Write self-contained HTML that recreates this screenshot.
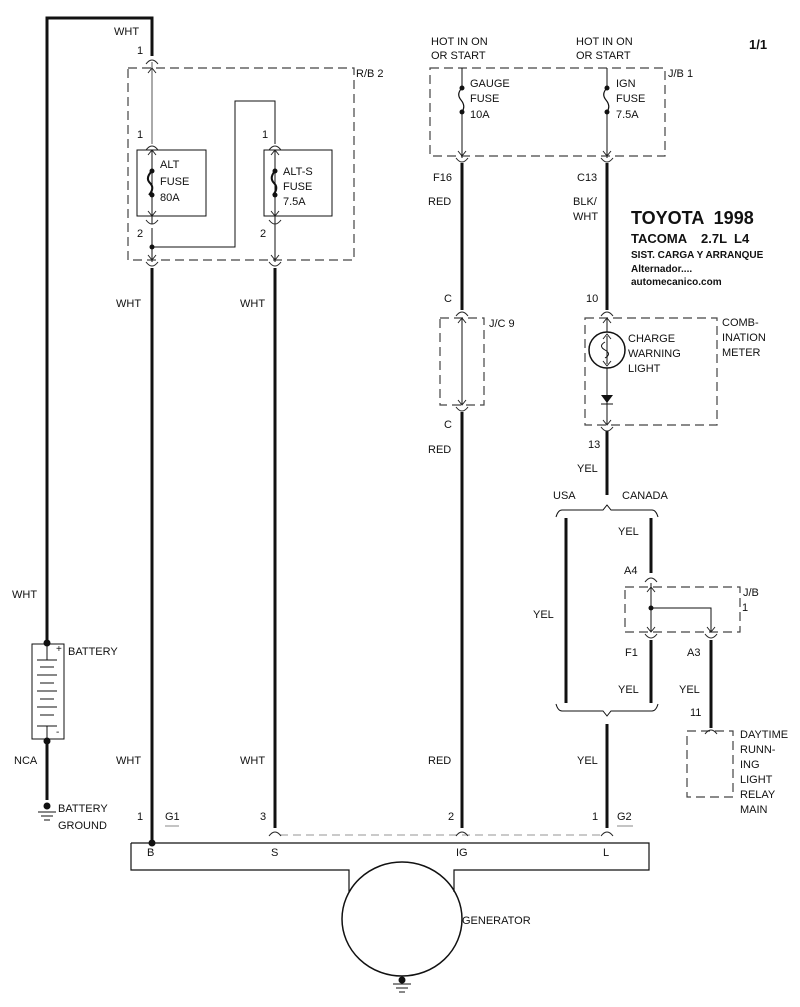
<!DOCTYPE html>
<html><head><meta charset="utf-8"><style>
html,body{margin:0;padding:0;background:#fff}
svg{display:block}
text{font-family:"Liberation Sans",Arial,sans-serif;font-size:11px;fill:#111}
.b{font-weight:bold}
</style></head><body>
<svg width="800" height="1007" viewBox="0 0 800 1007" xmlns="http://www.w3.org/2000/svg">
<defs>
<g id="cu"><path d="M-6,4 Q0,-4 6,4" fill="none" stroke="#222" stroke-width="1"/></g>
<g id="cd"><path d="M-6,-4 Q0,4 6,-4" fill="none" stroke="#222" stroke-width="1"/></g>
<g id="au"><path d="M-4,5 L0,0 L4,5" fill="none" stroke="#222" stroke-width="1"/></g>
<g id="ad"><path d="M-4,-5 L0,0 L4,-5" fill="none" stroke="#222" stroke-width="1"/></g>
</defs>
<g stroke="#111" fill="none">
<path d="M47,643 V18 H152 V56" stroke-width="3"/>
<path d="M47,741 V800" stroke-width="3"/>
<rect x="128" y="68" width="226" height="192" stroke-dasharray="9,5" stroke-width="1.2" stroke="#444"/>
<path d="M152,62 V144" stroke-width="1" stroke="#555"/>
<rect x="137" y="150" width="69" height="66" stroke-width="1"/>
<rect x="264" y="150" width="68" height="66" stroke-width="1"/>
<path d="M152,150 V224 M152,228 V262" stroke-width="1"/>
<path d="M152,247 H235 V101 H275 V144 M275,150 V262" stroke-width="1"/>
<path d="M152,171 Q145,178 150,183 Q155,188 149,195 M275,171 Q269,178 274,183 Q279,188 273,195" stroke-width="2"/>
<path d="M152,268 V843" stroke-width="3"/>
<path d="M275,268 V828" stroke-width="3"/>
<rect x="430" y="68" width="235" height="88" stroke-dasharray="9,5" stroke-width="1.2" stroke="#444"/>
<path d="M462,68 V88 M462,112 V158 M607,68 V88 M607,112 V158" stroke-width="1"/>
<path d="M462,88 Q456,94 461,100 Q466,106 462,112 M607,88 Q601,94 606,100 Q611,106 607,112" stroke-width="1.2"/>
<path d="M462,163 V310 M462,412 V828" stroke-width="3"/>
<path d="M607,163 V310" stroke-width="3"/>
<rect x="440" y="318" width="44" height="87" stroke-dasharray="9,5" stroke-width="1.2" stroke="#444"/>
<path d="M462,318 V405" stroke-width="1"/>
<rect x="585" y="318" width="132" height="107" stroke-dasharray="9,5" stroke-width="1.2" stroke="#444"/>
<path d="M607,318 V425" stroke-width="1"/>
<circle cx="607" cy="350" r="18" stroke-width="1.5" fill="#fff"/>
<path d="M607,336 V364" stroke-width="1"/>
<path d="M605,342 Q598,346 605,350 Q612,354 605,358" stroke-width="1"/>
<path d="M607,431 V495" stroke-width="3"/>
<path d="M556,517 Q558,510 562,510 H603 L607,505 L611,510 H652 Q656,510 658,517" stroke-width="1"/>
<path d="M566,518 V703" stroke-width="3"/>
<path d="M651,518 V573 M651,640 V703" stroke-width="3"/>
<rect x="625" y="587" width="115" height="45" stroke-dasharray="9,5" stroke-width="1.2" stroke="#444"/>
<path d="M651,583 V632 M651,608 H711 V632" stroke-width="1"/>
<path d="M711,640 V728" stroke-width="3"/>
<path d="M556,704 Q558,711 562,711 H603 L607,716 L611,711 H652 Q656,711 658,704" stroke-width="1"/>
<path d="M607,724 V828" stroke-width="3"/>
<rect x="687" y="731" width="46" height="66" stroke-dasharray="9,5" stroke-width="1.2" stroke="#444"/>
<rect x="32" y="644" width="32" height="95" stroke-width="1"/>
<path d="M37,660 H57 M40,667 H54 M37,675 H57 M40,683 H54 M37,691 H57 M40,699 H54 M37,707 H57 M40,715 H54 M37,726 H57 M47,644 V660 M47,726 V739" stroke-width="1"/>
<path d="M38,812 H56 M41,816 H53 M44,820 H50" stroke-width="1"/>
<path d="M393,984 H411 M396,988 H408 M399,992 H405" stroke-width="1"/>
<path d="M131,843 H649 V870 H454 V892 M349,892 V870 H131 V843" stroke-width="1.2"/>
<ellipse cx="402" cy="919" rx="60" ry="57" stroke-width="1.5"/>
<path d="M280,835 H602" stroke="#aaa" stroke-width="1.2" stroke-dasharray="8,5"/>
<path d="M165,826 H179 M617,826 H633" stroke="#888" stroke-width="1"/>
</g>
<g fill="#111">
<circle cx="47" cy="643" r="3.5"/><circle cx="47" cy="741" r="3.5"/>
<circle cx="47" cy="806" r="3.5"/><circle cx="402" cy="980" r="3.5"/>
<circle cx="152" cy="843" r="3.5"/><circle cx="152" cy="247" r="2.5"/>
<circle cx="651" cy="608" r="2.5"/>
<circle cx="152" cy="171" r="2.5"/><circle cx="152" cy="195" r="2.5"/>
<circle cx="275" cy="171" r="2.5"/><circle cx="275" cy="195" r="2.5"/>
<circle cx="462" cy="88" r="2.5"/><circle cx="462" cy="112" r="2.5"/>
<circle cx="607" cy="88" r="2.5"/><circle cx="607" cy="112" r="2.5"/>
<path d="M601,395 H613 L607,403 Z"/>
</g>
<path d="M601,404 H613" stroke="#111"/>
<use href="#cu" x="152" y="60"/><use href="#au" x="152" y="68"/>
<use href="#cu" x="152" y="146"/><use href="#au" x="152" y="150"/><use href="#ad" x="152" y="216"/><use href="#cd" x="152" y="224"/>
<use href="#cu" x="275" y="146"/><use href="#au" x="275" y="150"/><use href="#ad" x="275" y="216"/><use href="#cd" x="275" y="224"/>
<use href="#ad" x="152" y="260"/><use href="#cd" x="152" y="266"/>
<use href="#ad" x="275" y="260"/><use href="#cd" x="275" y="266"/>
<use href="#ad" x="462" y="156"/><use href="#cd" x="462" y="162"/>
<use href="#ad" x="607" y="156"/><use href="#cd" x="607" y="162"/>
<use href="#cu" x="462" y="312"/><use href="#au" x="462" y="318"/><use href="#ad" x="462" y="405"/><use href="#cd" x="462" y="411"/>
<use href="#cu" x="607" y="312"/><use href="#au" x="607" y="318"/><use href="#au" x="607" y="334"/><use href="#ad" x="607" y="366"/><use href="#ad" x="607" y="425"/><use href="#cd" x="607" y="431"/>
<use href="#cu" x="651" y="578"/><use href="#au" x="651" y="587"/><use href="#ad" x="651" y="632"/><use href="#cd" x="651" y="638"/>
<use href="#ad" x="711" y="632"/><use href="#cd" x="711" y="638"/>
<use href="#cu" x="711" y="730"/>
<use href="#cu" x="275" y="832"/><use href="#cu" x="462" y="832"/><use href="#cu" x="607" y="832"/>
<text x="114" y="35">WHT</text>
<text x="137" y="54">1</text>
<text x="356" y="77">R/B 2</text>
<text x="137" y="138">1</text><text x="262" y="138">1</text>
<text x="160" y="168">ALT</text><text x="160" y="185">FUSE</text><text x="160" y="201">80A</text>
<text x="283" y="175">ALT-S</text><text x="283" y="190">FUSE</text><text x="283" y="205">7.5A</text>
<text x="137" y="237">2</text><text x="260" y="237">2</text>
<text x="116" y="307">WHT</text><text x="240" y="307">WHT</text>
<text x="431" y="45">HOT IN ON</text><text x="431" y="59">OR START</text>
<text x="576" y="45">HOT IN ON</text><text x="576" y="59">OR START</text>
<text x="749" y="49" class="b" style="font-size:13px">1/1</text>
<text x="668" y="77">J/B 1</text>
<text x="470" y="87">GAUGE</text><text x="470" y="102">FUSE</text><text x="470" y="118">10A</text>
<text x="616" y="87">IGN</text><text x="616" y="102">FUSE</text><text x="616" y="118">7.5A</text>
<text x="433" y="181">F16</text><text x="428" y="205">RED</text>
<text x="577" y="181">C13</text><text x="573" y="205">BLK/</text><text x="573" y="220">WHT</text>
<text x="631" y="224" class="b" style="font-size:18px" xml:space="preserve">TOYOTA  1998</text>
<text x="631" y="243" class="b" style="font-size:13px" xml:space="preserve">TACOMA    2.7L  L4</text>
<text x="631" y="258" class="b" style="font-size:10px">SIST. CARGA Y ARRANQUE</text>
<text x="631" y="272" class="b" style="font-size:10px">Alternador....</text>
<text x="631" y="285" class="b" style="font-size:10px">automecanico.com</text>
<text x="444" y="302">C</text><text x="586" y="302">10</text>
<text x="489" y="327">J/C 9</text>
<text x="722" y="326">COMB-</text><text x="722" y="341">INATION</text><text x="722" y="356">METER</text>
<text x="628" y="342">CHARGE</text><text x="628" y="357">WARNING</text><text x="628" y="372">LIGHT</text>
<text x="444" y="428">C</text><text x="428" y="453">RED</text>
<text x="588" y="448">13</text><text x="577" y="472">YEL</text>
<text x="553" y="499">USA</text><text x="622" y="499">CANADA</text>
<text x="618" y="535">YEL</text>
<text x="624" y="574">A4</text>
<text x="743" y="596">J/B</text><text x="742" y="611">1</text>
<text x="533" y="618">YEL</text>
<text x="625" y="656">F1</text><text x="687" y="656">A3</text>
<text x="618" y="693">YEL</text><text x="679" y="693">YEL</text>
<text x="690" y="716">11</text>
<text x="740" y="738">DAYTIME</text><text x="740" y="753">RUNN-</text><text x="740" y="768">ING</text><text x="740" y="783">LIGHT</text><text x="740" y="798">RELAY</text><text x="740" y="813">MAIN</text>
<text x="12" y="598">WHT</text>
<text x="68" y="655">BATTERY</text>
<text x="14" y="764">NCA</text>
<text x="116" y="764">WHT</text><text x="240" y="764">WHT</text><text x="428" y="764">RED</text><text x="577" y="764">YEL</text>
<text x="58" y="812">BATTERY</text><text x="58" y="829">GROUND</text>
<text x="137" y="820">1</text><text x="165" y="820">G1</text>
<text x="260" y="820">3</text><text x="448" y="820">2</text>
<text x="592" y="820">1</text><text x="617" y="820">G2</text>
<text x="147" y="856">B</text><text x="271" y="856">S</text><text x="456" y="856">IG</text><text x="603" y="856">L</text>
<text x="462" y="924">GENERATOR</text>
<text x="56" y="652" style="font-size:10px">+</text><text x="56" y="735" style="font-size:10px">-</text>
</svg>
</body></html>
